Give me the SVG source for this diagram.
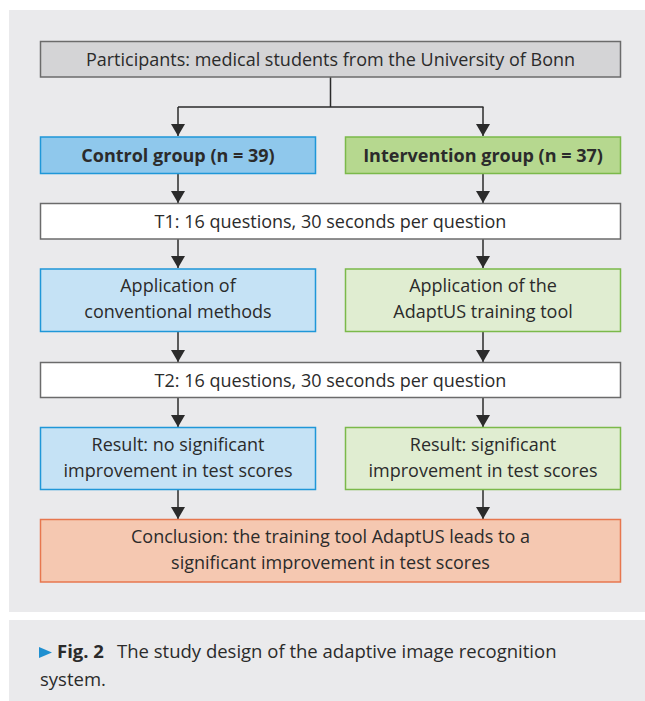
<svg xmlns="http://www.w3.org/2000/svg" width="645" height="701" viewBox="0 0 645 701">
  <defs>
    <style>
      .panel { fill: #eaeaec; }
      .box { stroke-width: 1.5; }
      .gray { fill: #d4d4d6; stroke: #6b6b6b; }
      .white { fill: #ffffff; stroke: #6b6b6b; }
      .blue { fill: #8fc8ec; stroke: #1f97d8; }
      .lblue { fill: #c5e2f5; stroke: #1f97d8; }
      .green { fill: #b6d88f; stroke: #7bb94a; }
      .lgreen { fill: #e0edd1; stroke: #7bb94a; }
      .orange { fill: #f5c8b1; stroke: #e7774f; }
      text { font-family: "Open Sans", "Liberation Sans", Arial, sans-serif; font-size: 18px; fill: #2b2b2b; text-anchor: middle; }
      .bold { font-weight: bold; }
      .caption { text-anchor: start; font-size: 18.5px; }
      .conn { fill: none; stroke: #2b2b2b; stroke-width: 1.5; }
    </style>
    <marker id="arrow" markerWidth="12" markerHeight="14" refX="12" refY="7" orient="auto" markerUnits="userSpaceOnUse" viewBox="0 0 12 14">
      <path d="M0,0 L12,7 L0,14 Z" fill="#2b2b2b"/>
    </marker>
  </defs>

  <!-- background panels -->
  <rect class="panel" x="9" y="10" width="636" height="602"/>
  <rect class="panel" x="9" y="620" width="636" height="81"/>

  <!-- connectors -->
  <g id="connectors">
    <path class="conn" d="M330.5,77 V107 M178,107 H483.5"/>
    <path class="conn" d="M178,107 V136" marker-end="url(#arrow)"/>
    <path class="conn" d="M483,107 V136" marker-end="url(#arrow)"/>
    <path class="conn" d="M178,174 V203" marker-end="url(#arrow)"/>
    <path class="conn" d="M483,174 V203" marker-end="url(#arrow)"/>
    <path class="conn" d="M178,239 V268" marker-end="url(#arrow)"/>
    <path class="conn" d="M483,239 V268" marker-end="url(#arrow)"/>
    <path class="conn" d="M178,332 V362" marker-end="url(#arrow)"/>
    <path class="conn" d="M483,332 V362" marker-end="url(#arrow)"/>
    <path class="conn" d="M178,397 V427" marker-end="url(#arrow)"/>
    <path class="conn" d="M483,397 V427" marker-end="url(#arrow)"/>
    <path class="conn" d="M178,490 V519" marker-end="url(#arrow)"/>
    <path class="conn" d="M483,490 V519" marker-end="url(#arrow)"/>
  </g>

  <g id="participants">
    <rect class="box gray" x="40.5" y="41.5" width="580" height="35.5"/>
    <text x="330.5" y="65.5">Participants: medical students from the University of Bonn</text>
  </g>

  <g id="control-group">
    <rect class="box blue" x="40.5" y="137" width="275" height="36.5"/>
    <text class="bold" x="178" y="161.5">Control group (n = 39)</text>
  </g>

  <g id="intervention-group">
    <rect class="box green" x="345.5" y="137" width="275" height="36.5"/>
    <text class="bold" x="483" y="161.5">Intervention group (n = 37)</text>
  </g>

  <g id="t1">
    <rect class="box white" x="40.5" y="203.5" width="580" height="35.5"/>
    <text x="330.5" y="227.5">T1: 16 questions, 30 seconds per question</text>
  </g>

  <g id="conventional">
    <rect class="box lblue" x="40.5" y="269" width="275" height="62.5"/>
    <text x="178" y="291.5">Application of</text>
    <text x="178" y="318">conventional methods</text>
  </g>

  <g id="adaptus">
    <rect class="box lgreen" x="345.5" y="269" width="275" height="62.5"/>
    <text x="483" y="291.5">Application of the</text>
    <text x="483" y="318">AdaptUS training tool</text>
  </g>

  <g id="t2">
    <rect class="box white" x="40.5" y="362.5" width="580" height="35"/>
    <text x="330.5" y="386.5">T2: 16 questions, 30 seconds per question</text>
  </g>

  <g id="result-control">
    <rect class="box lblue" x="40.5" y="427.5" width="275" height="62"/>
    <text x="178" y="451">Result: no significant</text>
    <text x="178" y="477">improvement in test scores</text>
  </g>

  <g id="result-intervention">
    <rect class="box lgreen" x="345.5" y="427.5" width="275" height="62"/>
    <text x="483" y="451">Result: significant</text>
    <text x="483" y="477">improvement in test scores</text>
  </g>

  <g id="conclusion">
    <rect class="box orange" x="40.5" y="519.5" width="580" height="62.5"/>
    <text x="330.5" y="543">Conclusion: the training tool AdaptUS leads to a</text>
    <text x="330.5" y="569">significant improvement in test scores</text>
  </g>

  <!-- figure caption -->
  <g id="caption">
    <path d="M39,647 L52,652.5 L39,658 Z" fill="#1f8fd0"/>
    <text class="caption" x="57" y="658"><tspan class="bold">Fig. 2</tspan><tspan x="117">The study design of the adaptive image recognition</tspan></text>
    <text class="caption" x="40" y="686">system.</text>
  </g>
</svg>
